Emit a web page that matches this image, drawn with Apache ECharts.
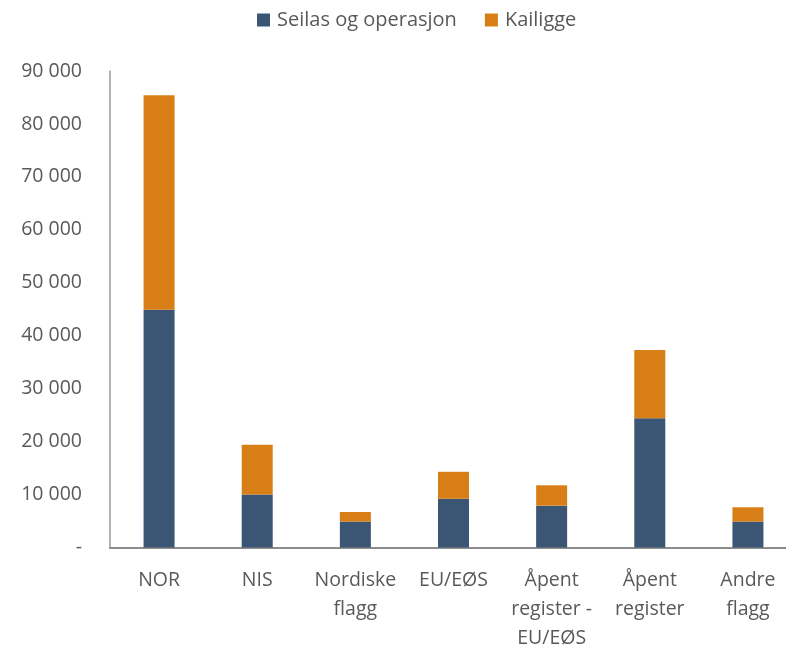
<!DOCTYPE html>
<html>
<head>
<meta charset="utf-8">
<script src="https://cdn.jsdelivr.net/npm/echarts@6/dist/echarts.min.js"></script>
<style>
  html, body { margin: 0; padding: 0; background: #fff; }
  #chart { width: 786px; height: 647px; }
</style>
</head>
<body>
<div id="chart"></div>
<script>
// Flaggkategorier
const categories = ['NOR', 'NIS', 'Nordiske\nflagg', 'EU/EØS', 'Åpent\nregister -\nEU/EØS', 'Åpent\nregister', 'Andre\nflagg'];

// Verdier lest fra figuren
const seilas = [44900, 10000, 4900, 9200, 7900, 24400, 4900];
const kailigge = [40500, 9400, 1800, 5100, 3850, 12900, 2700];

const TEXT = '#595959';
const FONT = 'Open Sans';

function fmtTick(v) {
  if (v === 0) return '-';
  return String(v).replace(/\B(?=(\d{3})+(?!\d))/g, ' ');
}

const chart = echarts.init(document.getElementById('chart'), null, { renderer: 'canvas' });
chart.setOption({
  animation: false,
  textStyle: { fontFamily: FONT },
  legend: {
    top: 5,
    left: 252,
    itemWidth: 13,
    itemHeight: 13,
    itemGap: 28,
    icon: 'rect',
    textStyle: { color: TEXT, fontSize: 20, fontFamily: FONT, padding: [0, 0, 0, 2] },
    data: ['Seilas og operasjon', 'Kailigge'],
  },
  grid: { left: 110, top: 71, width: 687, bottom: 99.5, outerBoundsMode: 'none' },
  xAxis: {
    type: 'category',
    data: categories,
    axisLine: { lineStyle: { color: '#8c8c8c', width: 2 } },
    axisTick: { show: false },
    axisLabel: { color: TEXT, fontSize: 19.5, lineHeight: 29, margin: 18, interval: 0 },
  },
  yAxis: {
    type: 'value',
    min: 0,
    max: 90000,
    interval: 10000,
    splitLine: { show: false },
    axisLine: { show: true, lineStyle: { color: '#9a9a9a', width: 1.5 } },
    axisTick: { show: false },
    axisLabel: { color: TEXT, fontSize: 19.5, margin: 28, formatter: fmtTick },
  },
  series: [
    {
      name: 'Seilas og operasjon',
      type: 'bar',
      stack: 'total',
      barWidth: 31,
      data: seilas,
      itemStyle: { color: '#3a5674' },
    },
    {
      name: 'Kailigge',
      type: 'bar',
      stack: 'total',
      barWidth: 31,
      data: kailigge,
      itemStyle: { color: '#d87e17' },
    },
  ],
});
</script>
</body>
</html>
